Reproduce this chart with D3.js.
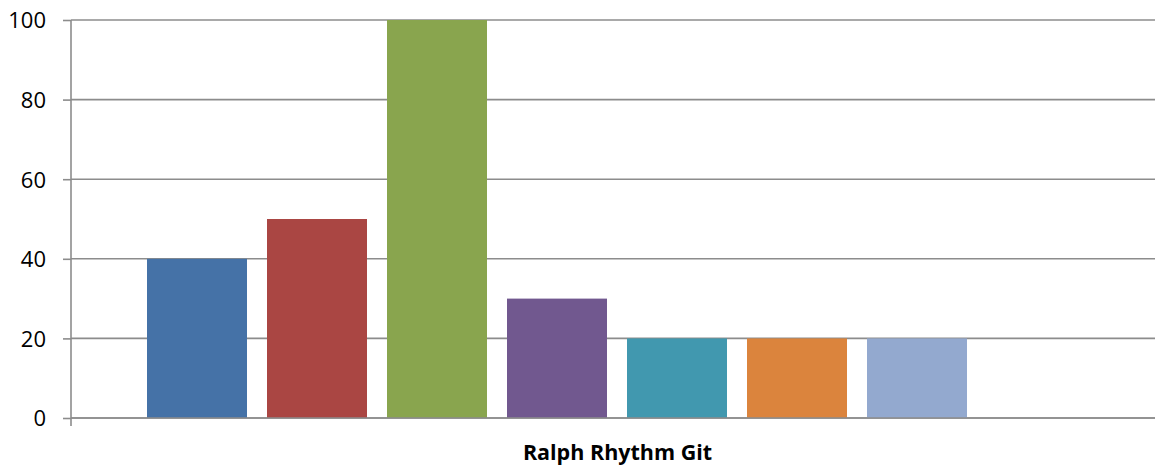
<!DOCTYPE html>
<html><head><meta charset="utf-8">
<script src="https://cdn.jsdelivr.net/npm/d3@7"></script>
<style>body{margin:0;background:#fff}svg{display:block}</style>
</head><body>
<script>
const category = "Ralph Rhythm Git";
const seriesNames = ["S1","S2","S3","S4","S5","S6","S7","S8"];
const seriesValues = [40, 50, 100, 30, 20, 20, 20, null];
const seriesColors = ["#4572A7","#AA4643","#89A54E","#71588F","#4198AF","#DB843D","#93A9CF","#000000"];
const yTicks = [0, 20, 40, 60, 80, 100];

(function(){
const W = 1155, H = 466;
const pLeft = 71, pRight = 1163, pTop = 20, pBottom = 418;
const svg = d3.select("body").append("svg").attr("width", W).attr("height", H);

const y = d3.scaleLinear().domain([0, 100]).range([pBottom, pTop]);
const x = d3.scaleBand().domain(seriesNames).range([147, 1087]).paddingInner(1/6).paddingOuter(0);

// gridlines
svg.append("g").selectAll("line").data(yTicks).join("line")
  .attr("x1", pLeft).attr("x2", pRight)
  .attr("y1", d => y(d)).attr("y2", d => y(d))
  .attr("stroke", "#8c8c8c").attr("stroke-width", 1.6);

// bars
const data = seriesNames.map((n, i) => ({n, v: seriesValues[i], c: seriesColors[i]})).filter(d => d.v != null);
svg.append("g").selectAll("rect").data(data).join("rect")
  .attr("x", d => x(d.n)).attr("width", x.bandwidth())
  .attr("y", d => y(d.v)).attr("height", d => y(0) - y(d.v))
  .attr("fill", d => d.c);

// baseline redraw
svg.append("line").attr("x1", pLeft).attr("x2", pRight).attr("y1", y(0)).attr("y2", y(0))
  .attr("stroke", "#8c8c8c").attr("stroke-width", 1.6);

// y axis
const yAxis = d3.axisLeft(y).tickValues(yTicks).tickSize(8).tickPadding(17);
const ga = svg.append("g").attr("transform", `translate(${pLeft},0)`).call(yAxis);
ga.select(".domain").attr("d", `M0,${pTop}V${pBottom + 8}`).attr("stroke", "#8c8c8c").attr("stroke-width", 1.6);
ga.selectAll(".tick line").attr("stroke", "#8c8c8c").attr("stroke-width", 1.6);
ga.selectAll(".tick text").attr("font-family", "'Open Sans', sans-serif").attr("font-size", 22).attr("fill", "#000").attr("dy", "0.36em");

// category label
svg.append("text").attr("x", (pLeft + pRight) / 2 + 0.5).attr("y", 460)
  .attr("text-anchor", "middle").attr("font-family", "'Open Sans', sans-serif")
  .attr("font-weight", "bold").attr("font-size", 21.5).attr("fill", "#000")
  .text(category);
})();
</script>
</body></html>
